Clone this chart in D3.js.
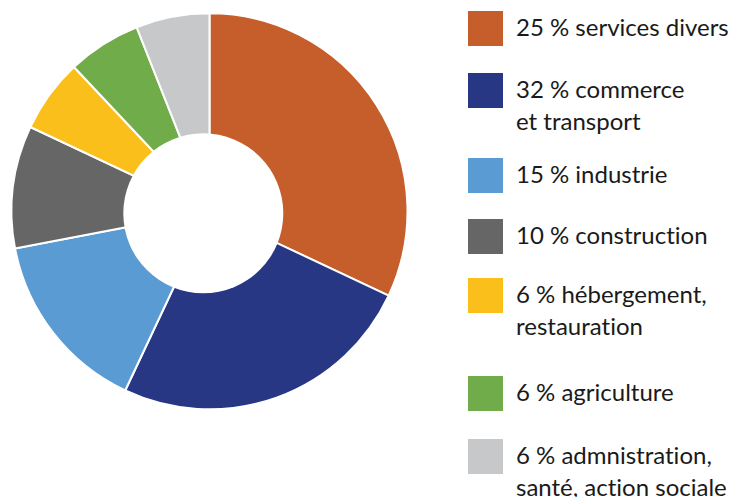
<!DOCTYPE html>
<html><head><meta charset="utf-8">
<script src="https://cdn.jsdelivr.net/npm/d3@7"></script>
<style>body{margin:0;background:#fff;}svg{display:block;} text{font-variant-ligatures:none;font-feature-settings:"liga" 0,"clig" 0;}</style>
</head><body>
<svg id="chart" width="736" height="497"></svg>
<script>
// Slice values as drawn (clockwise from 12 o'clock)
const sliceNames = ["services divers","commerce et transport","industrie","construction","hébergement, restauration","agriculture","admnistration, santé, action sociale"];
const sliceValues = [32, 25, 15, 10, 6, 6, 6];
const sliceColors = ["#C55E2A","#283783","#5A9BD3","#666666","#FBBF1C","#70AD4A","#C7C8CA"];
// Legend labels as printed
const legendLines = [
  ["25 % services divers"],
  ["32 % commerce","et transport"],
  ["15 % industrie"],
  ["10 % construction"],
  ["6 % hébergement,","restauration"],
  ["6 % agriculture"],
  ["6 % admnistration,","santé, action sociale"]
];
const legendTops = [11, 73, 158, 219, 278, 376, 439];

const svg = d3.select("#chart");
const cx = 209.5, cy = 211.3, R = 198;
const g = svg.append("g").attr("transform", `translate(${cx},${cy})`);
const pie = d3.pie().sort(null).value(d => d)(sliceValues);
const arc = d3.arc().innerRadius(0).outerRadius(R);
g.selectAll("path").data(pie).join("path")
  .attr("d", arc)
  .attr("fill", (d,i) => sliceColors[i])
  .attr("stroke", "#fff").attr("stroke-width", 2).attr("stroke-linejoin","round");
// hole
svg.append("circle").attr("cx", 203.3).attr("cy", 213.3).attr("r", 80).attr("fill", "#fff");

const lg = svg.append("g");
legendLines.forEach((lines, i) => {
  const top = legendTops[i];
  lg.append("rect").attr("x", 468).attr("y", top).attr("width", 35).attr("height", 35).attr("fill", sliceColors[i]);
  const t = lg.append("text").attr("x", 516).attr("y", top + 25)
    .attr("font-family", "Lato, sans-serif").attr("font-size", 24).attr("fill", "#1a1a1a");
  lines.forEach((l, j) => t.append("tspan").attr("x", 516).attr("dy", j === 0 ? 0 : 31.7).text(l));
});
</script>
</body></html>
